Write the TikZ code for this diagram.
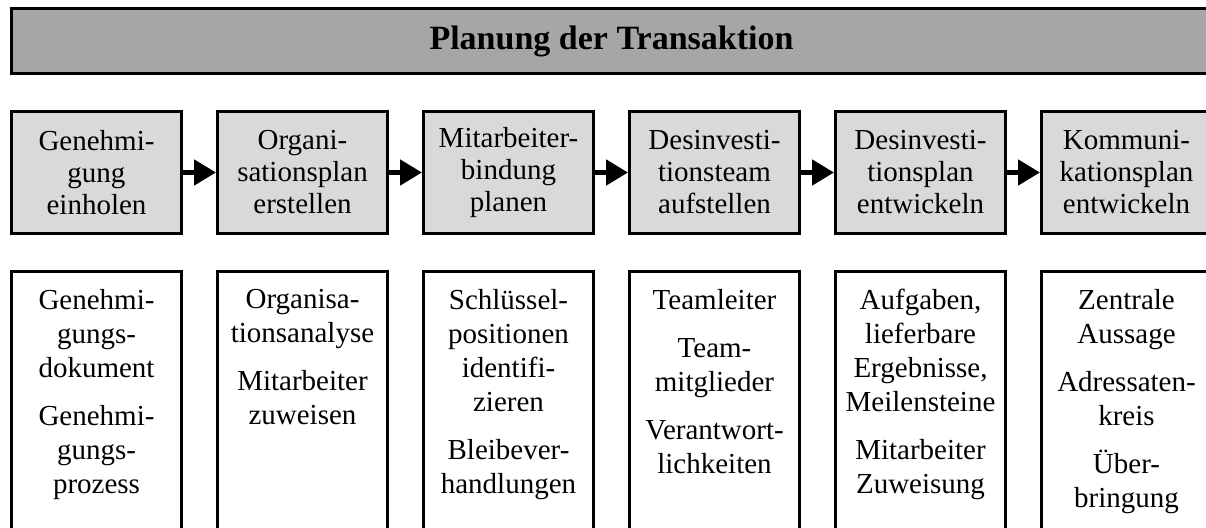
\documentclass[tikz,border=0pt]{standalone}
\usepackage{fontspec}
\setmainfont{Liberation Serif}
\usetikzlibrary{arrows.meta}
\tikzset{
	headbox/.style={draw, line width=1.5pt, fill=black!35, minimum width=600pt, minimum height=32.5pt, font=\fontsize{17}{20}\selectfont\bfseries},
	stepbox/.style={draw, line width=1.5pt, fill=black!15, minimum width=85pt, minimum height=61pt, inner sep=0pt, text width=84pt, align=center, font=\fontsize{14.5}{16}\selectfont},
	itembox/.style={draw, line width=1.5pt, fill=white, anchor=north, minimum width=85pt, inner xsep=0pt, inner ysep=9pt, text width=84pt, text depth=150pt, align=center, font=\fontsize{14.5}{17}\selectfont},
	flow/.style={line width=2.5pt, line cap=round, -{Triangle[length=11pt,width=12.5pt]}}
}

\begin{document}
\begin{tikzpicture}[x=0.5pt, y=-0.5pt]
			%%%%% START %%%%%
			\useasboundingbox (0, 0) rectangle (1206, 527);
			\clip (0, 0) rectangle (1206, 527);
			
			\node[headbox] (plan) at (611.5, 41) {Planung der Transaktion};
			
			\node[stepbox] (s1) at (96.5, 172.5) {Genehmi-\\gung\\einholen};
			\node[stepbox] (s2) at (302.5, 172.5) {Organi-\\sationsplan\\erstellen};
			\node[stepbox] (s3) at (508.5, 172.5) {Mitarbeiter-\\bindung\\planen};
			\node[stepbox] (s4) at (714.5, 172.5) {Desinvesti-\\tionsteam\\aufstellen};
			\node[stepbox] (s5) at (920.5, 172.5) {Desinvesti-\\tionsplan\\entwickeln};
			\node[stepbox] (s6) at (1126.5, 172.5) {Kommuni-\\kationsplan\\entwickeln};
			
			\draw[flow] (s1.east) -- (s2.west);
			\draw[flow] (s2.east) -- (s3.west);
			\draw[flow] (s3.east) -- (s4.west);
			\draw[flow] (s4.east) -- (s5.west);
			\draw[flow] (s5.east) -- (s6.west);
			
			\node[itembox] (i1) at (96.5, 269.5) {Genehmi-\\gungs-\\dokument\\[7pt]Genehmi-\\gungs-\\prozess};
			\node[itembox] (i2) at (302.5, 269.5) {Organisa-\\tionsanalyse\\[7pt]Mitarbeiter\\zuweisen};
			\node[itembox] (i3) at (508.5, 269.5) {Schlüssel-\\positionen\\identifi-\\zieren\\[7pt]Bleibever-\\handlungen};
			\node[itembox] (i4) at (714.5, 269.5) {Teamleiter\\[7pt]Team-\\mitglieder\\[7pt]Verantwort-\\lichkeiten};
			\node[itembox] (i5) at (920.5, 269.5) {Aufgaben,\\lieferbare\\Ergebnisse,\\Meilensteine\\[7pt]Mitarbeiter\\Zuweisung};
			\node[itembox] (i6) at (1126.5, 269.5) {Zentrale\\Aussage\\[7pt]Adressaten-\\kreis\\[7pt]Über-\\bringung};
			%%%%% END %%%%%
\end{tikzpicture}
\end{document}
